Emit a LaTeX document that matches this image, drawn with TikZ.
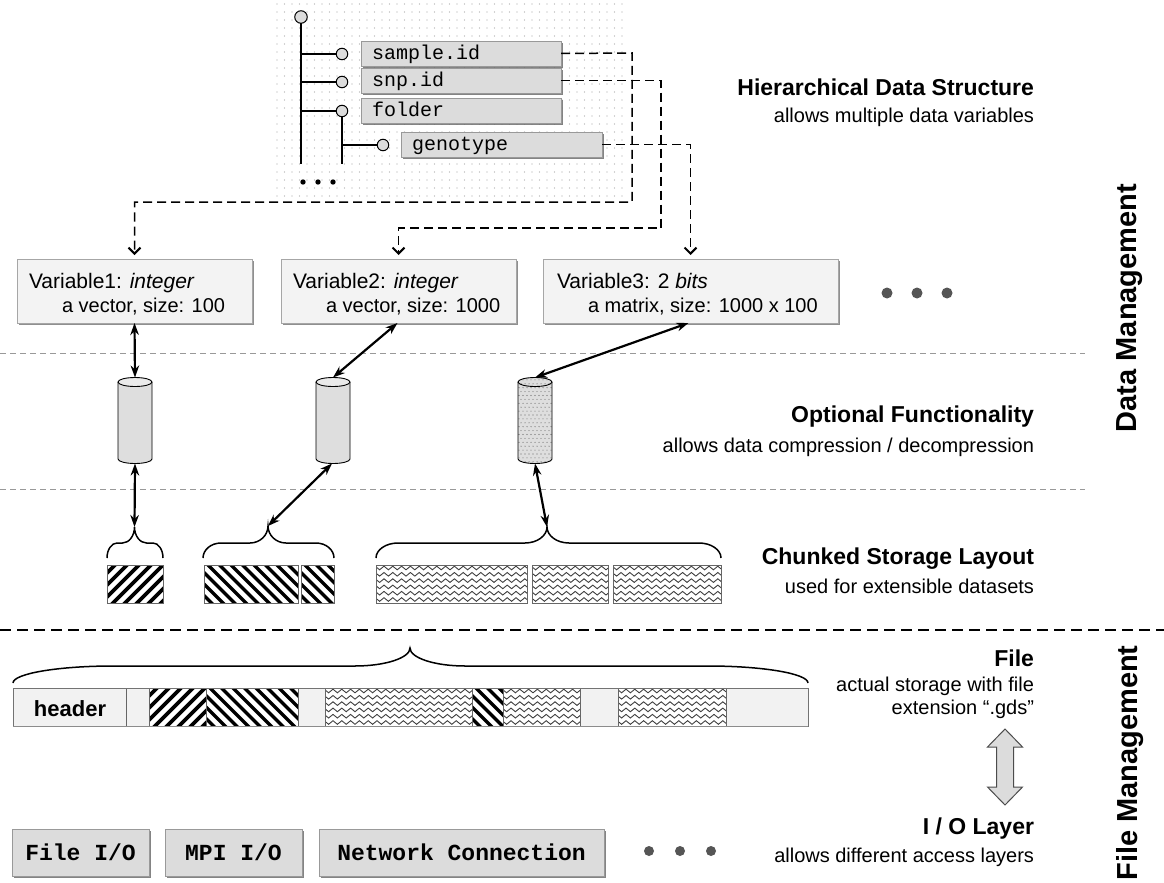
\documentclass[tikz,border=0pt]{standalone}
\usepackage{fontspec}
\setmainfont{Liberation Sans}
\setmonofont{Liberation Mono}
\usetikzlibrary{arrows.meta,shadows,calc}
\definecolor{tfill}{HTML}{DCDCDC}
\definecolor{vfill}{HTML}{F3F3F3}
\definecolor{bfill}{HTML}{F2F2F2}
\definecolor{cfill}{HTML}{DEDEDE}
\definecolor{ctop}{HTML}{EAEAEA}
\definecolor{dotc}{HTML}{555555}

% "/" stripes
\newcommand\slashfill[4]{%
\begin{scope}
\clip (#1,#2) rectangle (#3,#4);
\fill[white] (#1,#2) rectangle (#3,#4);
\pgfmathtruncatemacro\nstr{(#3-#1+50)/12+1}
\foreach \kk in {0,...,\nstr} {\draw[stripe] ({#1-45+\kk*12},{#4+3}) -- ++(50,-50);}
\end{scope}}
% "\" stripes
\newcommand\bslashfill[4]{%
\begin{scope}
\clip (#1,#2) rectangle (#3,#4);
\fill[white] (#1,#2) rectangle (#3,#4);
\pgfmathtruncatemacro\nstr{(#3-#1+50)/11.5+1}
\foreach \kk in {0,...,\nstr} {\draw[stripeb] ({#1-45+\kk*11.5},{#2-3}) -- ++(50,50);}
\end{scope}}
% waves
\newcommand\wavefill[4]{%
\begin{scope}
\clip (#1,#2) rectangle (#3,#4);
\fill[white] (#1,#2) rectangle (#3,#4);
\pgfmathtruncatemacro\nw{(#3-#1)/8.8+2}
\foreach \rw in {0,...,6} {
 \draw[wavy] ({#1-3},{#2+3+\rw*6.3}) \foreach \ii in {1,...,\nw} { sin ++(2.2,-1.8) cos ++(2.2,1.8) sin ++(2.2,1.8) cos ++(2.2,-1.8) };
}
\end{scope}}
% brace: x1 x2 xtip yEnd yMid yTip endcurve tipcurve
\newcommand\mybrace[8]{%
\draw[brc] (#1,#4)
  .. controls (#1,{#4-0.55*(#4-#5)}) and ({#1+0.45*#7},#5) .. ({#1+#7},#5)
  -- ({#3-#8},#5)
  .. controls ({#3-0.45*#8},#5) and (#3,{#6+0.55*(#5-#6)}) .. (#3,#6)
  .. controls (#3,{#6+0.55*(#5-#6)}) and ({#3+0.45*#8},#5) .. ({#3+#8},#5)
  -- ({#2-#7},#5)
  .. controls ({#2-0.45*#7},#5) and (#2,{#4-0.55*(#4-#5)}) .. (#2,#4);}
% cylinder drawing at centre x
\newcommand\cylbody[2]{%
\fill[#2] ({#1-17},382) arc[start angle=180,end angle=360,x radius=17,y radius=4.5]
  -- ({#1+17},459) arc[start angle=0,end angle=180,x radius=17,y radius=4.5] -- cycle;}
\newcommand\cyloutline[1]{%
\draw[cylline] ({#1-17},382) -- ({#1-17},459) arc[start angle=180,end angle=0,x radius=17,y radius=4.5] -- ({#1+17},382);
\draw[cylline] (#1,382) ellipse[x radius=17,y radius=4.5];}

\begin{document}
\begin{tikzpicture}[x=1pt,y=-1pt,
  every node/.style={inner sep=0pt,outer sep=0pt},
  stripe/.style={line width=3.6pt,black},
  stripeb/.style={line width=3.2pt,black},
  wavy/.style={line width=0.9pt,black!75},
  brc/.style={line width=1.5pt,black},
  cylline/.style={line width=0.9pt,black},
  tline/.style={line width=2.8pt,black},
  tcirc/.style={circle,draw=black,line width=1pt,fill=tfill,minimum size=11.5pt},
  treebox/.style={draw=black!40,fill=tfill,line width=0.6pt,minimum height=25pt,
     inner xsep=11pt,text height=14.5pt,text depth=3pt,align=left,anchor=north west,
     font=\fontsize{20}{22}\selectfont\ttfamily,
     drop shadow={shadow xshift=2pt,shadow yshift=-2pt,fill=black!60,opacity=0.8}},
  varbox/.style={draw=black!35,fill=vfill,line width=0.6pt,minimum height=64pt,
     drop shadow={shadow xshift=2pt,shadow yshift=-2pt,fill=black!55,opacity=0.8}},
  vtxtA/.style={anchor=base west,font=\fontsize{21}{24}\selectfont},
  vtxtB/.style={anchor=base west,font=\fontsize{20}{24}\selectfont},
  iobox/.style={draw=black!40,fill=tfill,line width=0.6pt,minimum height=47pt,
     font=\fontsize{23}{26}\selectfont\ttfamily\bfseries,
     drop shadow={shadow xshift=2pt,shadow yshift=-2pt,fill=black!60,opacity=0.8}},
  chunk/.style={draw=black!60,line width=0.8pt,anchor=north west,minimum height=38pt},
  cylnode/.style={minimum width=34pt,minimum height=86pt},
  dconn/.style={line width=1.5pt,dash pattern=on 9pt off 5pt,arrows={-Straight Barb[length=6pt,width=12pt,line width=2pt]}},
  dbl/.style={line width=2.2pt,arrows={Stealth[length=12pt,width=8.5pt]-Stealth[length=12pt,width=8.5pt]}},
  title/.style={anchor=east,font=\fontsize{23}{27}\selectfont\bfseries},
  sub/.style={anchor=east,font=\fontsize{20}{24}\selectfont},
  vlabel/.style={rotate=90,font=\fontsize{29}{32}\selectfont\bfseries},
  thindash/.style={black!40,line width=1pt,dash pattern=on 6pt off 4pt},
  thickdash/.style={black,line width=2.2pt,dash pattern=on 11pt off 6pt}
]
\useasboundingbox (0,0) rectangle (1164,883);
\fill[white] (0,0) rectangle (1164,883);

% ---------- tree background dots
\foreach \ii in {0,...,46} \foreach \jj in {0,...,24}
  \fill[black!35] ({277+\ii*7.5},{4+\jj*8}) circle (0.65);

% ---------- variable boxes
\node[varbox,minimum width=235pt] (v1) at (134.5,291) {};
\node[varbox,minimum width=235pt] (v2) at (398.5,291) {};
\node[varbox,minimum width=295pt] (v3) at (690.5,291) {};

% ---------- tree
\node[tcirc,minimum size=12.5pt] (root) at (301,17) {};
\node[tcirc] (c1) at (342,54) {};
\node[tcirc] (c2) at (342,82) {};
\node[tcirc] (c3) at (342,111) {};
\node[tcirc] (c4) at (383,145) {};
\coordinate (e1) at (301,164);
\coordinate (e2) at (342,164);
\draw[tline] (root.south) -- (e1);
\draw[tline] (root.south |- c1) -- (c1.west);
\draw[tline] (root.south |- c2) -- (c2.west);
\draw[tline] (root.south |- c3) -- (c3.west);
\draw[tline] (c3.south) -- (e2);
\draw[tline] (c3.south |- c4) -- (c4.west);
\fill (303,182) circle (2.7);
\fill (318,182) circle (2.7);
\fill (333,182) circle (2.7);

\node[treebox,text width=178pt] (sid) at (361,41) {sample.id};
\node[treebox,text width=178pt] (snp) at (361,68) {snp.id};
\node[treebox,text width=178pt] (fold) at (361,98) {folder};
\node[treebox,text width=179pt] (geno) at (401,132) {genotype};

\draw[dconn] (sid.east) -- (632,53) -- (632,202) -| ([yshift=4pt]v1.north);
\draw[dconn] (snp.east) -- (661,80.5) -- (661,228) -| ([yshift=4pt]v2.north);
\draw[dconn] (geno.east) -- (689,144.5) -| ([yshift=4pt]v3.north);

% ---------- variable texts
\node[vtxtA] (v1a) at (29,288) {Variable1: \textit{integer}};
\node[vtxtB] (v1b) at (62,312) {a vector, size: 100};
\node[vtxtA] (v2a) at (293,288) {Variable2: \textit{integer}};
\node[vtxtB] (v2b) at (326,312) {a vector, size: 1000};
\node[vtxtA] (v3a) at (557,288) {Variable3: 2 \textit{bits}};
\node[vtxtB] (v3b) at (588,312) {a matrix, size: 1000 x 100};
\fill[dotc] (887,293) circle (5.5);
\fill[dotc] (917,293) circle (5.5);
\fill[dotc] (947,293) circle (5.5);

% ---------- separators
\draw[thindash] (0,353) -- (1085,353);
\draw[thindash] (0,489) -- (1085,489);
\draw[thickdash] (0,630) -- (1164,630);

% ---------- cylinders
\cylbody{135}{cfill}
\fill[ctop] (135,382) ellipse[x radius=17,y radius=4.5];
\cyloutline{135}
\cylbody{333}{cfill}
\fill[ctop] (333,382) ellipse[x radius=17,y radius=4.5];
\cyloutline{333}
\cylbody{535}{cfill}
\begin{scope}
\clip (518,382) arc[start angle=180,end angle=360,x radius=17,y radius=4.5]
  -- (552,459) arc[start angle=0,end angle=180,x radius=17,y radius=4.5] -- cycle;
\foreach \ii in {0,...,9} \foreach \jj in {0,...,23}
  \fill[black!60] ({517+\ii*4+mod(\jj,2)*2},{376+\jj*3.9}) circle (0.55);
\end{scope}
\cyloutline{535}
\node[cylnode] (cy1) at (135,420.5) {};
\node[cylnode] (cy2) at (333,420.5) {};
\node[cylnode] (cy3) at (535,420.5) {};

% ---------- chunks
\slashfill{107}{565}{163}{603}
\node[chunk,minimum width=56pt] (ch1) at (107,565) {};
\bslashfill{204}{565}{298}{603}
\node[chunk,minimum width=94pt] (ch2a) at (204,565) {};
\bslashfill{301}{565}{334}{603}
\node[chunk,minimum width=33pt] (ch2b) at (301,565) {};
\wavefill{376}{565}{527}{603}
\node[chunk,minimum width=151pt] (ch3a) at (376,565) {};
\wavefill{532}{565}{608}{603}
\node[chunk,minimum width=76pt] (ch3b) at (532,565) {};
\wavefill{613}{565}{721}{603}
\node[chunk,minimum width=108pt] (ch3c) at (613,565) {};

% ---------- braces
\mybrace{107}{163}{134.5}{558}{543}{527}{10}{12}
\mybrace{203}{334}{268}{558}{543}{526}{18}{18}
\mybrace{376}{721}{547}{558}{543}{527}{22}{22}
\coordinate (bt1) at (134.5,527);
\coordinate (bt2) at (268,526);
\coordinate (bt3) at (547,527);

% ---------- arrows
\draw[dbl] (v1.south) -- (cy1.north);
\draw[dbl] ([xshift=-1pt]v2.south) -- (cy2.north);
\draw[dbl] ([xshift=-2pt]v3.south) -- (cy3.north);
\draw[dbl] (cy1.south) -- (bt1);
\draw[dbl] ([xshift=-1pt]cy2.south) -- (bt2);
\draw[dbl] (cy3.south) -- (bt3);

% ---------- file bar
\node[draw=black!55,fill=bfill,line width=0.8pt,anchor=north west,minimum width=795pt,minimum height=38pt] (fbar) at (13,688) {};
\slashfill{149}{688}{206}{726}
\bslashfill{206}{688}{298}{726}
\wavefill{325}{688}{472}{726}
\bslashfill{472}{688}{503}{726}
\wavefill{503}{688}{580}{726}
\wavefill{618}{688}{726}{726}
\foreach \xx in {126,149,206,298,325,472,503,580,618,726}
  \draw[black!60,line width=0.8pt] (\xx,688) -- (\xx,726);
\draw[black!55,line width=0.8pt] (13,688) rectangle (808,726);
\draw[black!45,line width=1.2pt] (13,726.5) -- (808,726.5);
\node[font=\fontsize{22}{24}\selectfont\bfseries] (hdr) at (70,709) {header};
\mybrace{13}{808}{410}{683}{666}{648}{100}{55}

% ---------- IO boxes
\node[iobox,minimum width=137pt] (io1) at (80.5,852.5) {File I/O};
\node[iobox,minimum width=137pt] (io2) at (233.5,852.5) {MPI I/O};
\node[iobox,minimum width=285pt] (io3) at (461.5,852.5) {Network Connection};
\fill[dotc] (649,851) circle (5);
\fill[dotc] (680,851) circle (5);
\fill[dotc] (711,851) circle (5);

% ---------- fat double arrow
\draw[fill=tfill,draw=black!70,line width=1pt]
  (1005,729) -- (1022.5,747) -- (1013.5,747) -- (1013.5,787) -- (1022.5,787)
  -- (1005,805) -- (987.5,787) -- (996.5,787) -- (996.5,747) -- (987.5,747) -- cycle;

% ---------- right labels
\node[title] (t1) at (1034,87) {Hierarchical Data Structure};
\node[sub] (s1) at (1034,117) {allows multiple data variables};
\node[title] (t2) at (1034,417) {Optional Functionality};
\node[sub] (s2) at (1034,447) {allows data compression / decompression};
\node[title] (t3) at (1034,559) {Chunked Storage Layout};
\node[sub] (s3) at (1034,586) {used for extensible datasets};
\node[title] (t4) at (1034,658) {File};
\node[sub] (s4a) at (1034,686) {actual storage with file};
\node[sub] (s4b) at (1034,709) {extension “.gds”};
\node[title] (t5) at (1034,829) {I / O Layer};
\node[sub] (s5) at (1034,857) {allows different access layers};

\node[vlabel] (dm) at (1130,308) {Data Management};
\node[vlabel] (fm) at (1130,763) {File Management};
\end{tikzpicture}
\end{document}
